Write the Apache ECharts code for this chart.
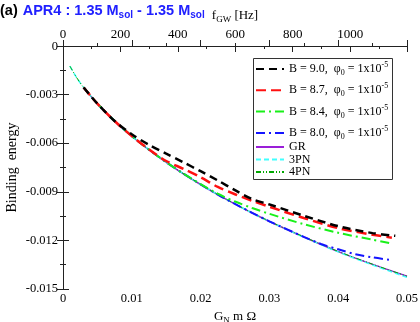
<!DOCTYPE html>
<html>
<head>
<meta charset="utf-8">
<script src="https://cdn.jsdelivr.net/npm/echarts@6/dist/echarts.min.js"></script>
<style>html,body{margin:0;padding:0;background:#fff;}#c{width:420px;height:322px;}</style>
</head>
<body>
<div id="c"></div>
<script>
// ---- data ----
const xPN  = [0.001,0.002,0.003,0.005,0.0075,0.01,0.0125,0.015,0.0175,0.02,0.0225,0.025,0.0275,0.03,0.035,0.04,0.045,0.05];
const e4PN = [-0.00124,-0.00196,-0.00256,-0.00356,-0.00463,-0.00556,-0.00640,-0.00717,-0.00788,-0.00854,-0.00917,-0.00975,-0.01030,-0.01082,-0.01178,-0.01268,-0.01347,-0.01421];
const e3PN = [-0.00124,-0.00196,-0.00256,-0.00356,-0.00463,-0.00556,-0.00640,-0.00717,-0.00788,-0.00854,-0.00917,-0.00975,-0.01031,-0.01083,-0.01180,-0.01271,-0.01352,-0.01428];
const xGR  = [0.003,0.005,0.0075,0.01,0.0125,0.015,0.0175,0.02,0.0225,0.025,0.0275,0.03,0.035,0.04,0.045,0.05];
const eGR  = [-0.00257,-0.00357,-0.00464,-0.00557,-0.00641,-0.00718,-0.00789,-0.00855,-0.00918,-0.00976,-0.01031,-0.01083,-0.01179,-0.01269,-0.01348,-0.01421];
const xB90 = [0.003,0.005,0.0075,0.01,0.0125,0.015,0.0175,0.02,0.0225,0.025,0.0275,0.03,0.035,0.04,0.045,0.0483];
const eB90 = [-0.00256,-0.00356,-0.00463,-0.00545,-0.00610,-0.00665,-0.00718,-0.00773,-0.00830,-0.00890,-0.00945,-0.00978,-0.01048,-0.01112,-0.01155,-0.01172];
const xB87 = [0.003,0.005,0.0075,0.01,0.0125,0.015,0.0175,0.02,0.0225,0.025,0.0275,0.03,0.035,0.04,0.045,0.0478];
const eB87 = [-0.00256,-0.00356,-0.00463,-0.00556,-0.00638,-0.00710,-0.00758,-0.00810,-0.00870,-0.00915,-0.00956,-0.00992,-0.01062,-0.01124,-0.01165,-0.01183];
const xB84 = [0.003,0.005,0.0075,0.01,0.0125,0.015,0.0175,0.02,0.0225,0.025,0.0275,0.03,0.035,0.04,0.045,0.0475];
const eB84 = [-0.00256,-0.00356,-0.00463,-0.00556,-0.00640,-0.00717,-0.00788,-0.00852,-0.00912,-0.00960,-0.01000,-0.01036,-0.01100,-0.01153,-0.01196,-0.01217];
const xB80 = [0.003,0.005,0.0075,0.01,0.0125,0.015,0.0175,0.02,0.0225,0.025,0.0275,0.03,0.035,0.0375,0.04,0.0425,0.045,0.0475];
const eB80 = [-0.00256,-0.00356,-0.00463,-0.00556,-0.00640,-0.00717,-0.00788,-0.00854,-0.00917,-0.00975,-0.01030,-0.01082,-0.01178,-0.01222,-0.01255,-0.01285,-0.01305,-0.01320];
const yTicks = {min:-0.015, max:0, interval:0.003};
const xTicks = {min:0, max:0.05, interval:0.01};
const fTicks = {min:0, max:1198, interval:200};
const names = ['B90','B87','B84','B80','GR','3PN','4PN'];

const pairs = (xs, ys) => xs.map((x,i)=>[x, ys[i]]);
const serif = 'Liberation Serif';
const axisCol = '#222';
const yFmt = v => Math.abs(v)<1e-12 ? '0' : v.toFixed(3);

const legendRich = {
  t:{fontFamily:serif,fontSize:12,color:'#000'},
  sub:{fontFamily:serif,fontSize:8,color:'#000',padding:[8,0,0,0]},
  sup:{fontFamily:serif,fontSize:8,color:'#000',padding:[0,0,8,0]}
};
const legendText = {
  'B90':'{t|B = 9.0,  φ}{sub|0}{t| = 1x10}{sup|-5}',
  'B87':'{t|B = 8.7,  φ}{sub|0}{t| = 1x10}{sup|-5}',
  'B84':'{t|B = 8.4,  φ}{sub|0}{t| = 1x10}{sup|-5}',
  'B80':'{t|B = 8.0,  φ}{sub|0}{t| = 1x10}{sup|-5}',
  'GR':'GR','3PN':'3PN','4PN':'4PN'
};

function line(name, data, color, width, type, z){
  return {name, type:'line', xAxisIndex:0, yAxisIndex:0, data, symbol:'none', smooth:0.3,
    lineStyle:{color, width, type}, itemStyle:{color}, z, animation:false};
}

const chart = echarts.init(document.getElementById('c'), null, {renderer:'canvas'});
chart.setOption({
  animation:false,
  backgroundColor:'#fff',
  title:{
    left:0, top:1, padding:0,
    text:'{a|(a)} {b|APR4 : 1.35 M}{s|sol}{b| - 1.35 M}{s|sol}',
    textStyle:{rich:{
      a:{fontFamily:'Liberation Sans',fontWeight:'bold',fontSize:14.5,color:'#000'},
      b:{fontFamily:'Liberation Sans',fontWeight:'bold',fontSize:14.5,color:'#2020ff'},
      s:{fontFamily:'Liberation Sans',fontWeight:'bold',fontSize:10,color:'#2020ff',padding:[9,0,0,0]}
    }}
  },
  grid:{left:63, right:13, top:46, bottom:33, containLabel:false, outerBoundsMode:'none'},
  xAxis:[{
    type:'value', position:'bottom', min:xTicks.min, max:xTicks.max, interval:xTicks.interval,
    axisLine:{lineStyle:{color:axisCol,width:1}},
    axisTick:{inside:true,length:6,lineStyle:{color:axisCol}},
    minorTick:{show:true,splitNumber:2,length:3,lineStyle:{color:axisCol}},
    splitLine:{show:false},
    axisLabel:{fontFamily:serif,fontSize:12.5,color:'#000',margin:3,showMinLabel:true,showMaxLabel:true,hideOverlap:false,
      formatter:v=> v===0?'0':String(+v.toFixed(2))},
    name:'{t|G}{s|N}{t| m Ω}', nameLocation:'middle', nameGap:19, nameMoveOverlap:false,
    nameTextStyle:{align:'center',rich:{t:{fontFamily:serif,fontSize:13,color:'#000'},s:{fontFamily:serif,fontSize:9,color:'#000',padding:[8,0,0,0]}}}
  },{
    type:'value', position:'top', min:fTicks.min, max:fTicks.max, interval:fTicks.interval,
    axisLine:{lineStyle:{color:axisCol,width:1}},
    axisTick:{inside:true,length:6,lineStyle:{color:axisCol}},
    minorTick:{show:true,splitNumber:2,length:3,lineStyle:{color:axisCol}},
    splitLine:{show:false},
    axisLabel:{fontFamily:serif,fontSize:13,color:'#000',margin:5,showMinLabel:true,showMaxLabel:false,hideOverlap:false,
      formatter:v=>String(Math.round(v))},
    name:'{t|f}{s|GW}{t| [Hz]}', nameLocation:'middle', nameGap:22, nameMoveOverlap:false,
    nameTextStyle:{align:'center',rich:{t:{fontFamily:serif,fontSize:13,color:'#000'},s:{fontFamily:serif,fontSize:9,color:'#000',padding:[8,0,0,0]}}}
  }],
  yAxis:[{
    type:'value', position:'left', min:yTicks.min, max:yTicks.max, interval:yTicks.interval,
    axisLine:{show:true,lineStyle:{color:axisCol,width:1}},
    axisTick:{show:true,inside:true,length:6,lineStyle:{color:axisCol}},
    minorTick:{show:true,splitNumber:2,length:3,lineStyle:{color:axisCol}},
    splitLine:{show:false},
    axisLabel:{fontFamily:serif,fontSize:12.5,color:'#000',margin:5,showMinLabel:true,showMaxLabel:false,hideOverlap:false,
      formatter:yFmt},
    name:'Binding  energy', nameLocation:'middle', nameRotate:90, nameGap:44, nameMoveOverlap:false,
    nameTextStyle:{fontFamily:serif,fontSize:14,color:'#000'}
  },{
    type:'value', position:'right', min:yTicks.min, max:yTicks.max, interval:yTicks.interval,
    axisLine:{show:true,lineStyle:{color:axisCol,width:1}},
    axisTick:{show:true,inside:true,length:6,lineStyle:{color:axisCol}},
    minorTick:{show:true,splitNumber:2,length:3,lineStyle:{color:axisCol}},
    splitLine:{show:false}, axisLabel:{show:false}
  }],
  graphic:[
    {type:'rect', shape:{x:253.5,y:58.5,width:139,height:121}, style:{fill:'#fff',stroke:'#333',lineWidth:1}, z:3, silent:true},
    {type:'text', x:58, y:47, silent:true, z:5,
     style:{text:yFmt(yTicks.max), fontFamily:serif, fontSize:12.5, fontWeight:'normal', fill:'#000', stroke:null, lineWidth:0, align:'right', verticalAlign:'middle'}}
  ],
  legend:[{
    data:names.slice(0,4), orient:'vertical', left:255, top:61, itemWidth:28, itemHeight:10, itemGap:5.3,
    itemStyle:{opacity:0}, padding:[0,0,0,0], z:5,
    formatter:n=>legendText[n], textStyle:{rich:legendRich}
  },{
    data:names.slice(4), orient:'vertical', left:255, top:141, itemWidth:28, itemHeight:8, itemGap:0.5,
    itemStyle:{opacity:0}, padding:[0,0,0,0], z:5,
    textStyle:{fontFamily:serif,fontSize:12,color:'#000',lineHeight:12}
  }],
  series:[
    line('4PN', pairs(xPN,e4PN), '#00a800', 1, [5,2,1,2,1,2], 4),
    line('3PN', pairs(xPN,e3PN), '#40ffff', 1.5, [5,3], 3),
    line('GR', pairs(xGR,eGR), '#9a1ed8', 1.5, 'solid', 2),
    line('B80', pairs(xB80,eB80), '#1414ff', 2, [9,4,2,4], 5),
    line('B84', pairs(xB84,eB84), '#19f019', 2, [9,4,2,4], 5),
    line('B87', pairs(xB87,eB87), '#ff1010', 2.5, [10,5], 6),
    line('B90', pairs(xB90,eB90), '#000', 2.5, [8,5], 7)
  ]
});
</script>
</body>
</html>
